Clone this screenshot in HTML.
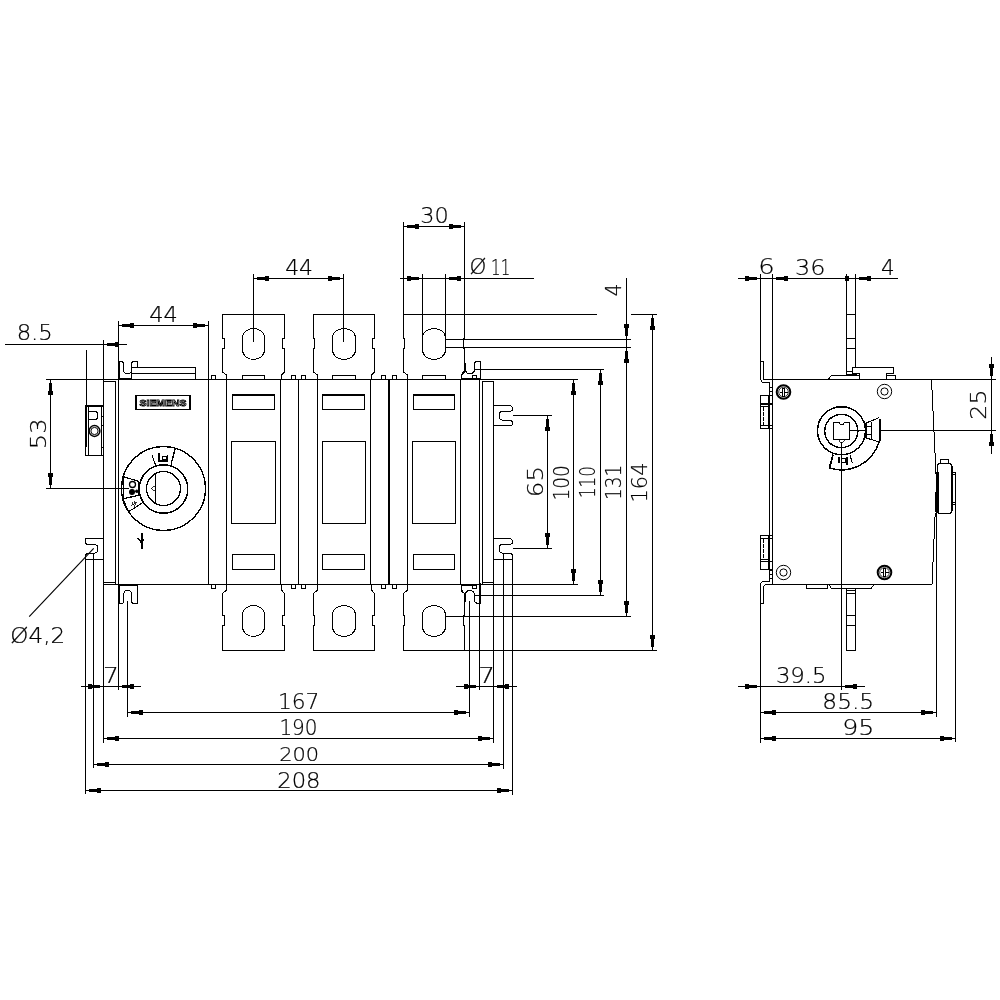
<!DOCTYPE html>
<html lang="en">
<head>
<meta charset="utf-8">
<title>Dimension drawing</title>
<style>
html,body{margin:0;padding:0;background:#fff}
body{width:1000px;height:1000px;overflow:hidden}
svg{display:block;filter:grayscale(1)}
svg rect.ar{fill:#000;stroke:none}
svg text{opacity:.999;font-family:"DejaVu Sans Light","DejaVu Sans","Liberation Sans",sans-serif;font-weight:200;font-size:21.5px;fill:#000;stroke:#000;stroke-width:0.22px}
svg text.logo{font-family:"Liberation Sans",sans-serif;font-weight:700;font-size:9.7px;fill:#fff;stroke:#000;stroke-width:0.85px}
</style>
</head>
<body>
<svg width="1000" height="1000" viewBox="0 0 1000 1000">
<rect x="0" y="0" width="1000" height="1000" fill="#fff"/>
<g fill="none" stroke="#000" stroke-width="1" shape-rendering="crispEdges">
<g id="front">
<line x1="46" y1="379.5" x2="578" y2="379.5"/>
<line x1="103.5" y1="584.5" x2="578" y2="584.5"/>
<line x1="118.5" y1="379.5" x2="118.5" y2="584.5"/>
<line x1="208.5" y1="379.5" x2="208.5" y2="584.5"/>
<line x1="226.5" y1="379.5" x2="226.5" y2="584.5"/>
<line x1="280.5" y1="379.5" x2="280.5" y2="584.5"/>
<line x1="298.5" y1="379.5" x2="298.5" y2="584.5"/>
<line x1="317.5" y1="379.5" x2="317.5" y2="584.5"/>
<line x1="370.5" y1="379.5" x2="370.5" y2="584.5"/>
<line x1="407.5" y1="379.5" x2="407.5" y2="584.5"/>
<line x1="460.5" y1="379.5" x2="460.5" y2="584.5"/>
<line x1="389" y1="379.5" x2="389" y2="584.5" stroke-width="2"/>
<line x1="115.5" y1="381" x2="115.5" y2="583.5"/>
<line x1="103.5" y1="381.5" x2="115.5" y2="381.5"/>
<line x1="103.5" y1="582.5" x2="115.5" y2="582.5"/>
<line x1="482.5" y1="380.5" x2="482.5" y2="583.5"/>
<line x1="482.5" y1="381.5" x2="493.5" y2="381.5"/>
<line x1="482.5" y1="582.5" x2="493.5" y2="582.5"/>
<line x1="103.5" y1="340" x2="103.5" y2="742.5"/>
<line x1="479.5" y1="379" x2="479.5" y2="689.8"/>
<line x1="493.5" y1="380.5" x2="493.5" y2="742.6"/>
<line x1="86.5" y1="350" x2="86.5" y2="405.5"/>
<path d="M226.5 379.5 V375 L222.5 372 V348.5 H224.5 V338.5 H222.5 V314.5 H284.5 V338.5 H282.5 V348.5 H284.5 V372 L281.5 375 V379.5"/>
<path d="M226.5 584.5 V590 L222.5 593.5 V615.5 H224.5 V625.5 H222.5 V650.5 H284.5 V625.5 H282.5 V615.5 H284.5 V593.5 L281.5 590 V584.5"/>
<path d="M317.5 379.5 V375 L313.5 372 V348.5 H314.5 V338.5 H313.5 V314.5 H374.5 V338.5 H372.5 V348.5 H374.5 V372 L371.5 375 V379.5"/>
<path d="M317.5 584.5 V590 L313.5 593.5 V615.5 H314.5 V625.5 H313.5 V650.5 H374.5 V625.5 H372.5 V615.5 H374.5 V593.5 L371.5 590 V584.5"/>
<path d="M407.5 379.5 V375 L403.5 372 V348.5 H404.5 V338.5 H403.5 V314.5 H464.5 V338.5 H463.5 V348.5 H464.5 V372 L461.5 375 V379.5"/>
<path d="M407.5 584.5 V590 L403.5 593.5 V615.5 H404.5 V625.5 H403.5 V650.5 H464.5 V625.5 H463.5 V615.5 H464.5 V593.5 L461.5 590 V584.5"/>
<path d="M242.5 337.5 A11.0 9 0 0 1 264.5 337.5 V350.0 A11.0 9.5 0 0 1 242.5 350.0 Z" shape-rendering="crispEdges"/>
<path d="M242.5 614.5 A11.0 9 0 0 1 264.5 614.5 V627.0 A11.0 9.5 0 0 1 242.5 627.0 Z" shape-rendering="crispEdges"/>
<rect x="242.5" y="375.5" width="22.0" height="4.0"/>
<path d="M332.5 337.5 A11.5 9 0 0 1 355.5 337.5 V350.0 A11.5 9.5 0 0 1 332.5 350.0 Z" shape-rendering="crispEdges"/>
<path d="M332.5 614.5 A11.5 9 0 0 1 355.5 614.5 V627.0 A11.5 9.5 0 0 1 332.5 627.0 Z" shape-rendering="crispEdges"/>
<rect x="332.5" y="375.5" width="23.0" height="4.0"/>
<path d="M422.5 337.5 A11.5 9 0 0 1 445.5 337.5 V350.0 A11.5 9.5 0 0 1 422.5 350.0 Z" shape-rendering="crispEdges"/>
<path d="M422.5 614.5 A11.5 9 0 0 1 445.5 614.5 V627.0 A11.5 9.5 0 0 1 422.5 627.0 Z" shape-rendering="crispEdges"/>
<rect x="422.5" y="375.5" width="23.0" height="4.0"/>
<rect x="211.5" y="375.5" width="4.0" height="4.0"/>
<rect x="211.5" y="584.5" width="4.0" height="4.0"/>
<rect x="291.5" y="375.5" width="4.0" height="4.0"/>
<rect x="291.5" y="584.5" width="4.0" height="4.0"/>
<rect x="301.5" y="375.5" width="4.0" height="4.0"/>
<rect x="301.5" y="584.5" width="4.0" height="4.0"/>
<rect x="381.5" y="375.5" width="4.0" height="4.0"/>
<rect x="381.5" y="584.5" width="4.0" height="4.0"/>
<rect x="392.5" y="375.5" width="4.0" height="4.0"/>
<rect x="392.5" y="584.5" width="4.0" height="4.0"/>
<rect x="472.5" y="375.5" width="4.0" height="4.0"/>
<rect x="472.5" y="584.5" width="4.0" height="4.0"/>
<rect x="232.5" y="394.5" width="42.0" height="15.0"/>
<line x1="232.5" y1="395.5" x2="274.5" y2="395.5"/>
<rect x="231.5" y="441.5" width="44.0" height="82.0"/>
<rect x="232.5" y="554.5" width="42.0" height="15.0"/>
<rect x="322.5" y="394.5" width="42.0" height="15.0"/>
<line x1="322.5" y1="395.5" x2="364.5" y2="395.5"/>
<rect x="322.5" y="441.5" width="43.0" height="82.0"/>
<rect x="322.5" y="554.5" width="42.0" height="15.0"/>
<rect x="413.5" y="394.5" width="41.0" height="15.0"/>
<line x1="413.5" y1="395.5" x2="454.5" y2="395.5"/>
<rect x="412.5" y="441.5" width="43.0" height="82.0"/>
<rect x="413.5" y="554.5" width="41.0" height="15.0"/>
</g>
<g id="handle">
<rect x="135.5" y="395.5" width="55.0" height="14.0"/>
<line x1="136.5" y1="395.5" x2="136.5" y2="409.5"/>
<line x1="189.5" y1="395.5" x2="189.5" y2="409.5"/>
<text class="logo" x="139.6" y="406.2" textLength="46.8" lengthAdjust="spacingAndGlyphs">SIEMENS</text>
<circle cx="163.5" cy="488.5" r="42" stroke-width="1.4"/>
<circle cx="163.5" cy="489" r="24.2" stroke-width="1.5"/>
<circle cx="163.5" cy="488.5" r="17" stroke-width="1.4"/>
<line x1="155.5" y1="473.5" x2="155.5" y2="502.5"/>
<path d="M155.5 485.5 L151 488.5 L155.5 491.5" stroke-width="0.8"/>
<path d="M152 455 L155.5 465"/>
<path d="M175.3 448.3 L171 464.5" stroke-width="1.3"/>
<line x1="159" y1="453" x2="159" y2="461" stroke-width="2"/>
<rect x="162.5" y="456.5" width="4.0" height="3.0"/>
<line x1="158" y1="461" x2="168" y2="461" stroke-width="1.2"/>
<line x1="167.5" y1="455" x2="167.5" y2="461.5"/>
<path d="M122.5 476.5 L139.5 481.5 M123 498.8 L140 495 M123.3 477.5 V498.5 M138.8 482 V495" stroke-width="1.2"/>
<path d="M140 495 L142.8 502.5 L128.5 511.8 L123 499" stroke-width="1.1"/>
<circle cx="132.5" cy="484.5" r="3" shape-rendering="geometricPrecision" stroke-width="1.3"/>
<circle cx="132" cy="492" r="2.4" shape-rendering="geometricPrecision" stroke-width="1.2" fill="#000"/>
<circle cx="136.8" cy="491.3" r="1.3" shape-rendering="geometricPrecision" fill="#000"/>
<path d="M130.5 505.5 L137 501 M132 502 L135 507 M134 500.5 l3 4.5" stroke-width="0.8"/>
<line x1="46" y1="488.5" x2="129" y2="488.5"/>
<line x1="142" y1="533" x2="142" y2="549" stroke-width="2"/>
<path d="M138 538 L141.5 542.5 L144 539.5" stroke-width="1.6"/>
<line x1="119" y1="361.5" x2="119" y2="379.5" stroke-width="2"/>
<path d="M118.5 361.5 H121 C123.5 361.5 123.8 363 123.8 365 V370.5 C123.8 374.5 131.2 374.5 131.2 370.5 V365 C131.2 363 131.5 361.5 134 361.5 H137.5 V367.5"/>
<line x1="118.5" y1="378.5" x2="131.5" y2="378.5"/>
<line x1="131.5" y1="367.5" x2="131.5" y2="379.5"/>
<line x1="131.5" y1="367.5" x2="195.5" y2="367.5"/>
<line x1="131.5" y1="373.5" x2="195.5" y2="373.5"/>
<line x1="195.5" y1="367.5" x2="195.5" y2="379.5"/>
<line x1="119" y1="584.5" x2="119" y2="603.5" stroke-width="2"/>
<path d="M118.5 603.5 H121.5 C123.8 603.5 123.8 602 123.8 600.5 V594 C123.8 589 131.4 589 131.4 594 V600.5 C131.4 602 131.6 603.5 134 603.5 H137.5 V584.5"/>
<line x1="118.5" y1="585.5" x2="137.5" y2="585.5"/>
</g>
<g id="left">
<rect x="85.5" y="405.5" width="18.0" height="50.0"/>
<line x1="86" y1="405" x2="86" y2="447" stroke-width="2"/>
<line x1="88.5" y1="407" x2="88.5" y2="455"/>
<line x1="101.5" y1="406" x2="101.5" y2="455"/>
<line x1="85" y1="406" x2="103" y2="406" stroke-width="1.6"/>
<path d="M89 411.5 H95 C98.5 411.5 98.5 419.5 95 419.5 H89" stroke-width="1.5"/>
<circle cx="94.5" cy="431" r="5.4" shape-rendering="geometricPrecision" stroke-width="1.5"/>
<circle cx="94.5" cy="431" r="3.6" shape-rendering="geometricPrecision"/>
<line x1="101.5" y1="416.5" x2="103.5" y2="416.5"/>
<line x1="101.5" y1="425.5" x2="103.5" y2="425.5"/>
<line x1="101.5" y1="447.5" x2="103.5" y2="447.5"/>
<path d="M103.5 538.5 H85.5 V542 C85.5 544 86.5 544.5 88.5 544.5 H94.5 C99 544.5 99 553 94.5 553 H89.5 C86.5 553 85.5 554.5 85.5 556.5"/>
<line x1="85.5" y1="559.5" x2="103.5" y2="559.5"/>
<line x1="85.5" y1="556" x2="85.5" y2="794.3"/>
<line x1="93.5" y1="553.5" x2="93.5" y2="768.3"/>
<path d="M93.7 548.4 L29.2 616.6" shape-rendering="geometricPrecision" stroke-width="1.15"/>
</g>
<g id="right">
<line x1="465" y1="363" x2="465" y2="371" stroke-width="2"/>
<path d="M464.5 370 L461.5 374.5 V379.5"/>
<path d="M465.5 363 V369.5 C465.5 375 474.4 375 474.4 369.5 V364.5 C474.4 362.5 475.5 361.5 477.5 361.5 H480.5 V380"/>
<line x1="461.5" y1="378.5" x2="480" y2="378.5" stroke-width="1.5"/>
<path d="M461.5 584.5 V591.2 L465 594"/>
<line x1="465" y1="594" x2="465" y2="601.5" stroke-width="2"/>
<path d="M465.5 601 V595 C465.5 589 474.4 589 474.4 595 V600.5 C474.4 602.5 475.5 603.2 477.5 603.2 H480"/>
<line x1="480" y1="583" x2="480" y2="603.5" stroke-width="2"/>
<line x1="461.5" y1="585.5" x2="476.5" y2="585.5" stroke-width="1.5"/>
<path d="M493.5 405.5 H508.5 C511.5 405.5 512.5 407.0 512.5 409.0 C512.5 411.0 511 411.5 508.5 411.5 H502 C498 411.5 498 420.0 502 420.0 H508.5 C511.5 420.0 512.5 421.0 512.5 423.0 V424.5"/>
<line x1="493.5" y1="425.5" x2="512" y2="425.5"/>
<path d="M493.5 538.5 H508.5 C511.5 538.5 512.5 540.0 512.5 542.0 C512.5 544.0 511 544.5 508.5 544.5 H502 C498 544.5 498 553.0 502 553.0 H508.5 C511.5 553.0 512.5 554.0 512.5 556.0 V557.5"/>
<line x1="493.5" y1="559.5" x2="512" y2="559.5"/>
</g>
<g id="fdims">
<line x1="5" y1="344.5" x2="126.5" y2="344.5"/>
<rect class="ar" x="115.0" y="342.0" width="4" height="5"/>
<rect class="ar" x="107.0" y="343.0" width="8" height="3"/>
<line x1="118.5" y1="321" x2="118.5" y2="379.5"/>
<line x1="118.5" y1="325.5" x2="208.5" y2="325.5"/>
<line x1="208.5" y1="321" x2="208.5" y2="379.5"/>
<rect class="ar" x="130.0" y="323.0" width="4" height="5"/>
<rect class="ar" x="122.0" y="324.0" width="8" height="3"/>
<rect class="ar" x="193.0" y="323.0" width="4" height="5"/>
<rect class="ar" x="197.0" y="324.0" width="8" height="3"/>
<line x1="253.5" y1="278.5" x2="343.5" y2="278.5"/>
<line x1="253.5" y1="274" x2="253.5" y2="341.5"/>
<line x1="343.5" y1="274" x2="343.5" y2="341.5"/>
<rect class="ar" x="265.0" y="276.0" width="4" height="5"/>
<rect class="ar" x="257.0" y="277.0" width="8" height="3"/>
<rect class="ar" x="328.0" y="276.0" width="4" height="5"/>
<rect class="ar" x="332.0" y="277.0" width="8" height="3"/>
<line x1="403.5" y1="226.5" x2="464.5" y2="226.5"/>
<line x1="403.5" y1="222" x2="403.5" y2="314.5"/>
<line x1="464.5" y1="222" x2="464.5" y2="338.5"/>
<rect class="ar" x="415.0" y="224.0" width="4" height="5"/>
<rect class="ar" x="407.0" y="225.0" width="8" height="3"/>
<rect class="ar" x="449.0" y="224.0" width="4" height="5"/>
<rect class="ar" x="453.0" y="225.0" width="8" height="3"/>
<line x1="400" y1="278.5" x2="534" y2="278.5"/>
<line x1="422.5" y1="274" x2="422.5" y2="335"/>
<line x1="445.5" y1="274" x2="445.5" y2="335"/>
<rect class="ar" x="407.0" y="276.0" width="4" height="5"/>
<rect class="ar" x="411.0" y="277.0" width="8" height="3"/>
<rect class="ar" x="457.0" y="276.0" width="4" height="5"/>
<rect class="ar" x="449.0" y="277.0" width="8" height="3"/>
<line x1="464.5" y1="314.5" x2="597" y2="314.5"/>
<line x1="631" y1="314.5" x2="657" y2="314.5"/>
<line x1="445.5" y1="339.5" x2="631" y2="339.5"/>
<line x1="445.5" y1="347.5" x2="631" y2="347.5"/>
<line x1="475" y1="369.5" x2="604" y2="369.5"/>
<line x1="475" y1="595.5" x2="604" y2="595.5"/>
<line x1="445.5" y1="616.5" x2="630.5" y2="616.5"/>
<line x1="464.5" y1="650.5" x2="657" y2="650.5"/>
<line x1="512.5" y1="415.5" x2="552" y2="415.5"/>
<line x1="512.5" y1="548.5" x2="552" y2="548.5"/>
<line x1="547.5" y1="415.5" x2="547.5" y2="548.5"/>
<rect class="ar" x="545.0" y="427.0" width="5" height="4"/>
<rect class="ar" x="546.0" y="419.0" width="3" height="8"/>
<rect class="ar" x="545.0" y="533.0" width="5" height="4"/>
<rect class="ar" x="546.0" y="537.0" width="3" height="8"/>
<line x1="573.5" y1="379.5" x2="573.5" y2="584.5"/>
<rect class="ar" x="571.0" y="391.0" width="5" height="4"/>
<rect class="ar" x="572.0" y="383.0" width="3" height="8"/>
<rect class="ar" x="571.0" y="569.0" width="5" height="4"/>
<rect class="ar" x="572.0" y="573.0" width="3" height="8"/>
<line x1="600.5" y1="369.5" x2="600.5" y2="595.5"/>
<rect class="ar" x="598.0" y="381.0" width="5" height="4"/>
<rect class="ar" x="599.0" y="373.0" width="3" height="8"/>
<rect class="ar" x="598.0" y="580.0" width="5" height="4"/>
<rect class="ar" x="599.0" y="584.0" width="3" height="8"/>
<line x1="626.5" y1="278" x2="626.5" y2="616.5"/>
<rect class="ar" x="624.0" y="324.0" width="5" height="4"/>
<rect class="ar" x="625.0" y="328.0" width="3" height="8"/>
<rect class="ar" x="624.0" y="359.0" width="5" height="4"/>
<rect class="ar" x="625.0" y="351.0" width="3" height="8"/>
<rect class="ar" x="624.0" y="601.0" width="5" height="4"/>
<rect class="ar" x="625.0" y="605.0" width="3" height="8"/>
<line x1="652.5" y1="314.5" x2="652.5" y2="650.5"/>
<rect class="ar" x="650.0" y="326.0" width="5" height="4"/>
<rect class="ar" x="651.0" y="318.0" width="3" height="8"/>
<rect class="ar" x="650.0" y="635.0" width="5" height="4"/>
<rect class="ar" x="651.0" y="639.0" width="3" height="8"/>
<line x1="50.5" y1="379.5" x2="50.5" y2="488.5"/>
<rect class="ar" x="48.0" y="391.0" width="5" height="4"/>
<rect class="ar" x="49.0" y="383.0" width="3" height="8"/>
<rect class="ar" x="48.0" y="473.0" width="5" height="4"/>
<rect class="ar" x="49.0" y="477.0" width="3" height="8"/>
<line x1="118.5" y1="603.5" x2="118.5" y2="689.5"/>
<line x1="127.5" y1="601" x2="127.5" y2="716.8"/>
<line x1="469.5" y1="601" x2="469.5" y2="716.7"/>
<line x1="503.5" y1="553.7" x2="503.5" y2="768.5"/>
<line x1="512.5" y1="556" x2="512.5" y2="794.7"/>
<line x1="81" y1="686.5" x2="141" y2="686.5"/>
<rect class="ar" x="88.0" y="684.0" width="4" height="5"/>
<rect class="ar" x="92.0" y="685.0" width="8" height="3"/>
<rect class="ar" x="130.0" y="684.0" width="4" height="5"/>
<rect class="ar" x="122.0" y="685.0" width="8" height="3"/>
<line x1="456" y1="686.5" x2="516.6" y2="686.5"/>
<rect class="ar" x="464.0" y="684.0" width="4" height="5"/>
<rect class="ar" x="468.0" y="685.0" width="8" height="3"/>
<rect class="ar" x="505.0" y="684.0" width="4" height="5"/>
<rect class="ar" x="497.0" y="685.0" width="8" height="3"/>
<line x1="127.5" y1="712.5" x2="469.5" y2="712.5"/>
<rect class="ar" x="139.0" y="710.0" width="4" height="5"/>
<rect class="ar" x="131.0" y="711.0" width="8" height="3"/>
<rect class="ar" x="454.0" y="710.0" width="4" height="5"/>
<rect class="ar" x="458.0" y="711.0" width="8" height="3"/>
<line x1="103.5" y1="738.5" x2="493.5" y2="738.5"/>
<rect class="ar" x="115.0" y="736.0" width="4" height="5"/>
<rect class="ar" x="107.0" y="737.0" width="8" height="3"/>
<rect class="ar" x="478.0" y="736.0" width="4" height="5"/>
<rect class="ar" x="482.0" y="737.0" width="8" height="3"/>
<line x1="93.5" y1="764.5" x2="503.5" y2="764.5"/>
<rect class="ar" x="105.0" y="762.0" width="4" height="5"/>
<rect class="ar" x="97.0" y="763.0" width="8" height="3"/>
<rect class="ar" x="488.0" y="762.0" width="4" height="5"/>
<rect class="ar" x="492.0" y="763.0" width="8" height="3"/>
<line x1="85.5" y1="790.5" x2="512.5" y2="790.5"/>
<rect class="ar" x="97.0" y="788.0" width="4" height="5"/>
<rect class="ar" x="89.0" y="789.0" width="8" height="3"/>
<rect class="ar" x="497.0" y="788.0" width="4" height="5"/>
<rect class="ar" x="501.0" y="789.0" width="8" height="3"/>
<text transform="translate(16.63 340.40) scale(1.059 1)">8.5</text>
<text transform="translate(149.20 322.00) scale(1.046 1)">44</text>
<text transform="translate(285.23 274.50) scale(1.015 1)">44</text>
<text transform="translate(420.31 223.00) scale(1.040 1)">30</text>
<text transform="translate(469.62 274.30) scale(1.000 1)">Ø</text>
<text transform="translate(491.09 274.50) scale(0.700 1)">11</text>
<text transform="translate(621.00 296.56) rotate(-90) scale(0.964 1)">4</text>
<text transform="translate(46.00 449.18) rotate(-90) scale(1.122 1)">53</text>
<text transform="translate(543.20 497.22) rotate(-90) scale(1.141 1)">65</text>
<text transform="translate(569.00 500.44) rotate(-90) scale(0.860 1)">100</text>
<text transform="translate(595.00 498.04) rotate(-90) scale(0.775 1)">110</text>
<text transform="translate(621.00 500.04) rotate(-90) scale(0.861 1)">131</text>
<text transform="translate(647.20 502.52) rotate(-90) scale(0.976 1)">164</text>
<text transform="translate(10.32 643.00) scale(1.075 1)">Ø4,2</text>
<text transform="translate(102.97 683.00) scale(1.158 1)">7</text>
<text transform="translate(478.36 683.10) scale(1.221 1)">7</text>
<text transform="translate(277.90 708.90) scale(1.012 1)">167</text>
<text transform="translate(279.40 735.10) scale(0.928 1)">190</text>
<text transform="translate(279.14 760.90) scale(0.971 0.93)">200</text>
<text transform="translate(277.22 787.60) scale(1.056 1)">208</text>
</g>
<g id="side">
<line x1="763.5" y1="379.5" x2="996" y2="379.5"/>
<line x1="765" y1="584.5" x2="932" y2="584.5"/>
<line x1="772.5" y1="274" x2="772.5" y2="584.5"/>
<line x1="769.5" y1="382.5" x2="769.5" y2="581.5"/>
<path d="M760.5 274 V379 L762.5 382.5 H769.5"/>
<line x1="760.5" y1="361.5" x2="763.5" y2="361.5"/>
<line x1="763.5" y1="361.5" x2="763.5" y2="379.5"/>
<path d="M769.5 581.5 H764 C761.5 581.5 760.5 582.5 760.5 585 V742.7"/>
<path d="M772 584.5 H766.5 C764.5 584.5 763.5 585.5 763.5 587.5 V603.5 H760.5"/>
<rect x="760.5" y="395.5" width="8.0" height="33.0"/>
<line x1="760.5" y1="404" x2="772.5" y2="404" stroke-width="1.6"/>
<line x1="760.5" y1="406.5" x2="768.5" y2="406.5"/>
<line x1="760.5" y1="425.5" x2="772.5" y2="425.5"/>
<line x1="768.5" y1="395.5" x2="772.5" y2="395.5"/>
<line x1="768.5" y1="428.5" x2="772.5" y2="428.5"/>
<line x1="763.5" y1="406.5" x2="763.5" y2="425.5" stroke-dasharray="4 1.2"/>
<rect x="760.5" y="535.5" width="8.0" height="34.0"/>
<line x1="760.5" y1="561.5" x2="772.5" y2="561.5" stroke-width="1.6"/>
<line x1="760.5" y1="559.5" x2="768.5" y2="559.5"/>
<line x1="760.5" y1="538.5" x2="772.5" y2="538.5"/>
<line x1="768.5" y1="535.5" x2="772.5" y2="535.5"/>
<line x1="768.5" y1="569.5" x2="772.5" y2="569.5"/>
<line x1="763.5" y1="538.5" x2="763.5" y2="559.5" stroke-dasharray="4 1.2"/>
<line x1="769.5" y1="387" x2="772.5" y2="387"/>
<line x1="769.5" y1="391" x2="772.5" y2="391"/>
<line x1="769.5" y1="395" x2="772.5" y2="395"/>
<line x1="769.5" y1="570" x2="772.5" y2="570"/>
<line x1="769.5" y1="574" x2="772.5" y2="574"/>
<line x1="769.5" y1="578" x2="772.5" y2="578"/>
<circle cx="783.5" cy="392" r="6.8" shape-rendering="geometricPrecision" stroke-width="2"/>
<circle cx="783.5" cy="392" r="4.8" shape-rendering="geometricPrecision" stroke-width="0.8"/>
<rect x="782.5" y="388" width="2.0" height="8"/>
<line x1="779.5" y1="392" x2="782.5" y2="392"/>
<line x1="784.5" y1="392" x2="787.5" y2="392"/>
<circle cx="884.5" cy="572.5" r="6.8" shape-rendering="geometricPrecision" stroke-width="2"/>
<circle cx="884.5" cy="572.5" r="4.8" shape-rendering="geometricPrecision" stroke-width="0.8"/>
<rect x="883.5" y="568.5" width="2.0" height="8.0"/>
<line x1="880.5" y1="572.5" x2="883.5" y2="572.5"/>
<line x1="885.5" y1="572.5" x2="888.5" y2="572.5"/>
<circle cx="884.5" cy="391.5" r="7.2" shape-rendering="geometricPrecision"/>
<circle cx="884.5" cy="391.5" r="3.6" shape-rendering="geometricPrecision"/>
<circle cx="783.5" cy="572.5" r="7.2" shape-rendering="geometricPrecision"/>
<circle cx="783.5" cy="572.5" r="3.6" shape-rendering="geometricPrecision"/>
<path d="M931.5 379.5 L936.3 480 M935.2 513 L932 584.5"/>
<path d="M940 463.5 H949.5 C951 463.5 951.5 464 951.5 466 V511 C951.5 513 951 513.5 949.5 513.5 H940 C938.5 513.5 937.5 513 937.5 511 V466 C937.5 464 938.5 463.5 940 463.5 Z" stroke-width="1.2"/>
<line x1="937.5" y1="472" x2="937.5" y2="513" stroke-width="3"/>
<line x1="936.5" y1="492" x2="936.5" y2="512" stroke-width="3"/>
<line x1="951.5" y1="466" x2="951.5" y2="511" stroke-width="2"/>
<path d="M941 464 C940 464 940 459.5 941.5 459.5 H947.5 C949 459.5 949 464 948 464" stroke-width="1.2"/>
<rect x="952.5" y="472.5" width="3.0" height="32.0"/>
<line x1="952.5" y1="474.5" x2="955.5" y2="474.5"/>
<line x1="952.5" y1="502.5" x2="955.5" y2="502.5"/>
<line x1="955.5" y1="504.5" x2="955.5" y2="742.4"/>
<line x1="936.5" y1="512" x2="936.5" y2="716.5"/>
<path d="M828 379.5 L831.5 375.5 H859.5 V379.5"/>
<path d="M852.5 373.5 V367.5 H893.5 V373.5 H886.5 V379.5"/>
<line x1="852.5" y1="373.5" x2="859.5" y2="373.5"/>
<line x1="859.5" y1="373.5" x2="859.5" y2="379.5"/>
<rect x="886.5" y="375.5" width="9.0" height="4.0"/>
<line x1="846.5" y1="274" x2="846.5" y2="375.5"/>
<line x1="855.5" y1="274" x2="855.5" y2="367.5"/>
<line x1="846.5" y1="314.5" x2="855.5" y2="314.5"/>
<line x1="846.5" y1="338.5" x2="855.5" y2="338.5"/>
<line x1="846.5" y1="348.5" x2="855.5" y2="348.5"/>
<line x1="846.5" y1="371.5" x2="852.5" y2="371.5"/>
<line x1="846.5" y1="374.3" x2="856.5" y2="374.3" stroke-width="1.6"/>
<rect x="806.5" y="584.5" width="21.0" height="4.0"/>
<path d="M829 584.5 L831.5 588.5 H871 L874 584.5"/>
<line x1="846.5" y1="588.5" x2="846.5" y2="650.5"/>
<line x1="855.5" y1="588.5" x2="855.5" y2="650.5"/>
<line x1="846.5" y1="590.5" x2="855.5" y2="590.5"/>
<line x1="846.5" y1="593.5" x2="855.5" y2="593.5"/>
<line x1="846.5" y1="615.5" x2="855.5" y2="615.5"/>
<line x1="846.5" y1="625.5" x2="855.5" y2="625.5"/>
<line x1="846.5" y1="650.5" x2="855.5" y2="650.5"/>
<line x1="841.5" y1="442" x2="841.5" y2="689.5"/>
<line x1="849.5" y1="430.5" x2="866" y2="430.5"/>
<line x1="880.5" y1="430.5" x2="996" y2="430.5"/>
<circle cx="841.5" cy="430.75" r="24" stroke-width="1.5"/>
<circle cx="841.3" cy="431" r="16.6" stroke-width="1.5"/>
<path d="M833.5 422.5 H839 L840.5 424.5 H843 L844.5 422.5 H849.5 V439.5 H833.5 Z"/>
<path d="M839 439.5 L841.5 442.5 L844 439.5" stroke-width="0.8"/>
<path d="M833 454.5 L829.5 468" stroke-width="1.8"/>
<path d="M850 455 L852.5 463.5"/>
<path d="M829.5 467.9 A39 39 0 0 0 879 442" stroke-width="1.5"/>
<line x1="839" y1="457" x2="839" y2="463" stroke-width="1.2"/>
<rect x="841.5" y="458.5" width="4.0" height="4.0" stroke-width="1.2"/>
<line x1="847" y1="457" x2="847" y2="465" stroke-width="1.2"/>
<path d="M866 423 L879.5 417.5 M866 438 L879.5 442" stroke-width="1.1"/>
<line x1="866" y1="423" x2="866" y2="438" stroke-width="2"/>
<line x1="871.5" y1="421.5" x2="871.5" y2="439.5"/>
<line x1="880" y1="419" x2="880" y2="441" stroke-width="2"/>
<rect x="866.5" y="426.5" width="5.0" height="8.0"/>
</g>
<g id="sdims">
<line x1="738" y1="278.5" x2="898" y2="278.5"/>
<rect class="ar" x="745.0" y="276.0" width="4" height="5"/>
<rect class="ar" x="749.0" y="277.0" width="8" height="3"/>
<rect class="ar" x="784.0" y="276.0" width="4" height="5"/>
<rect class="ar" x="776.0" y="277.0" width="8" height="3"/>
<rect class="ar" x="867.0" y="276.0" width="4" height="5"/>
<rect class="ar" x="859.0" y="277.0" width="8" height="3"/>
<rect class="ar" x="845" y="276" width="4" height="5"/>
<line x1="991.5" y1="357" x2="991.5" y2="454"/>
<rect class="ar" x="989.0" y="364.0" width="5" height="4"/>
<rect class="ar" x="990.0" y="368.0" width="3" height="8"/>
<rect class="ar" x="989.0" y="442.0" width="5" height="4"/>
<rect class="ar" x="990.0" y="434.0" width="3" height="8"/>
<line x1="738" y1="686.5" x2="865" y2="686.5"/>
<rect class="ar" x="745.0" y="684.0" width="4" height="5"/>
<rect class="ar" x="749.0" y="685.0" width="8" height="3"/>
<rect class="ar" x="853.0" y="684.0" width="4" height="5"/>
<rect class="ar" x="845.0" y="685.0" width="8" height="3"/>
<line x1="760.5" y1="712.5" x2="936.5" y2="712.5"/>
<rect class="ar" x="772.0" y="710.0" width="4" height="5"/>
<rect class="ar" x="764.0" y="711.0" width="8" height="3"/>
<rect class="ar" x="921.0" y="710.0" width="4" height="5"/>
<rect class="ar" x="925.0" y="711.0" width="8" height="3"/>
<line x1="760.5" y1="738.5" x2="955.5" y2="738.5"/>
<rect class="ar" x="772.0" y="736.0" width="4" height="5"/>
<rect class="ar" x="764.0" y="737.0" width="8" height="3"/>
<rect class="ar" x="940.0" y="736.0" width="4" height="5"/>
<rect class="ar" x="944.0" y="737.0" width="8" height="3"/>
<text transform="translate(758.20 274.20) scale(1.200 1)">6</text>
<text transform="translate(794.94 274.50) scale(1.112 1)">36</text>
<text transform="translate(881.00 275.00) scale(1.000 1)">4</text>
<text transform="translate(986.00 419.66) rotate(-90) scale(1.106 1)">25</text>
<text transform="translate(775.88 683.30) scale(1.060 1)">39.5</text>
<text transform="translate(822.33 708.50) scale(1.083 1)">85.5</text>
<text transform="translate(842.20 734.70) scale(1.176 1)">95</text>
</g>
</g>
</svg>
</body>
</html>
